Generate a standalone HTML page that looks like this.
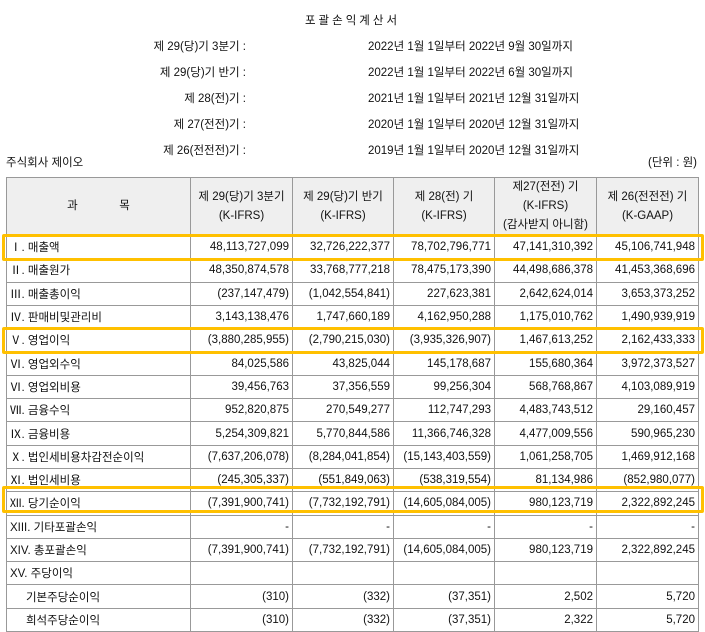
<!DOCTYPE html>
<html><head><meta charset="utf-8">
<style>
body{margin:0;width:705px;height:632px;background:#fff;font-family:"Liberation Sans","Noto Sans CJK KR","NanumGothic",sans-serif;font-size:11.5px;color:#111;position:relative;overflow:hidden}
.t{position:absolute;white-space:nowrap}
.lab{right:459px;text-align:right}
.dt{left:368px}
table{position:absolute;left:6px;top:177px;border-collapse:collapse;table-layout:fixed;border:1.5px solid #333}
td,th{border:1px solid #999;padding:0 3px;white-space:nowrap;font-weight:normal}
th{background:#efefef;height:57px;line-height:19px}
td{height:22.3px;text-align:right}
td:first-child{text-align:left}
.hl{position:absolute;left:2px;width:696px;height:21px;border:3px solid #FFC000;border-radius:2px}
</style></head><body>
<div class="t" style="left:0;width:705px;text-align:center;top:12px;letter-spacing:3px">포괄손익계산서</div>
<div class="t lab" style="top:38px">제 29(당)기 3분기 :</div>
<div class="t dt" style="top:38px">2022년 1월 1일부터 2022년 9월 30일까지</div>
<div class="t lab" style="top:64px">제 29(당)기 반기 :</div>
<div class="t dt" style="top:64px">2022년 1월 1일부터 2022년 6월 30일까지</div>
<div class="t lab" style="top:90px">제 28(전)기 :</div>
<div class="t dt" style="top:90px">2021년 1월 1일부터 2021년 12월 31일까지</div>
<div class="t lab" style="top:116px">제 27(전전)기 :</div>
<div class="t dt" style="top:116px">2020년 1월 1일부터 2020년 12월 31일까지</div>
<div class="t lab" style="top:142px">제 26(전전전)기 :</div>
<div class="t dt" style="top:142px">2019년 1월 1일부터 2020년 12월 31일까지</div>
<div class="t" style="left:6px;top:154px">주식회사 제이오</div>
<div class="t" style="right:8px;top:154px">(단위 : 원)</div>
<table>
<colgroup><col style="width:184px"><col style="width:102px"><col style="width:101px"><col style="width:101px"><col style="width:102px"><col style="width:102px"></colgroup>
<tr><th>과&nbsp;&nbsp;&nbsp;&nbsp;&nbsp;&nbsp;&nbsp;&nbsp;&nbsp;&nbsp;&nbsp;&nbsp;&nbsp;목</th><th>제 29(당)기 3분기<br>(K-IFRS)</th><th>제 29(당)기 반기<br>(K-IFRS)</th><th>제 28(전) 기<br>(K-IFRS)</th><th>제27(전전) 기<br>(K-IFRS)<br>(감사받지 아니함)</th><th>제 26(전전전) 기<br>(K-GAAP)</th></tr>
<tr><td>Ⅰ. 매출액</td><td>48,113,727,099</td><td>32,726,222,377</td><td>78,702,796,771</td><td>47,141,310,392</td><td>45,106,741,948</td></tr>
<tr><td>Ⅱ. 매출원가</td><td>48,350,874,578</td><td>33,768,777,218</td><td>78,475,173,390</td><td>44,498,686,378</td><td>41,453,368,696</td></tr>
<tr><td>Ⅲ. 매출총이익</td><td>(237,147,479)</td><td>(1,042,554,841)</td><td>227,623,381</td><td>2,642,624,014</td><td>3,653,373,252</td></tr>
<tr><td>Ⅳ. 판매비및관리비</td><td>3,143,138,476</td><td>1,747,660,189</td><td>4,162,950,288</td><td>1,175,010,762</td><td>1,490,939,919</td></tr>
<tr><td>Ⅴ. 영업이익</td><td>(3,880,285,955)</td><td>(2,790,215,030)</td><td>(3,935,326,907)</td><td>1,467,613,252</td><td>2,162,433,333</td></tr>
<tr><td>Ⅵ. 영업외수익</td><td>84,025,586</td><td>43,825,044</td><td>145,178,687</td><td>155,680,364</td><td>3,972,373,527</td></tr>
<tr><td>Ⅵ. 영업외비용</td><td>39,456,763</td><td>37,356,559</td><td>99,256,304</td><td>568,768,867</td><td>4,103,089,919</td></tr>
<tr><td>Ⅶ. 금융수익</td><td>952,820,875</td><td>270,549,277</td><td>112,747,293</td><td>4,483,743,512</td><td>29,160,457</td></tr>
<tr><td>Ⅸ. 금융비용</td><td>5,254,309,821</td><td>5,770,844,586</td><td>11,366,746,328</td><td>4,477,009,556</td><td>590,965,230</td></tr>
<tr><td>Ⅹ. 법인세비용차감전순이익</td><td>(7,637,206,078)</td><td>(8,284,041,854)</td><td>(15,143,403,559)</td><td>1,061,258,705</td><td>1,469,912,168</td></tr>
<tr><td>Ⅺ. 법인세비용</td><td>(245,305,337)</td><td>(551,849,063)</td><td>(538,319,554)</td><td>81,134,986</td><td>(852,980,077)</td></tr>
<tr><td>Ⅻ. 당기순이익</td><td>(7,391,900,741)</td><td>(7,732,192,791)</td><td>(14,605,084,005)</td><td>980,123,719</td><td>2,322,892,245</td></tr>
<tr><td>XIII. 기타포괄손익</td><td>-</td><td>-</td><td>-</td><td>-</td><td>-</td></tr>
<tr><td>XIV. 총포괄손익</td><td>(7,391,900,741)</td><td>(7,732,192,791)</td><td>(14,605,084,005)</td><td>980,123,719</td><td>2,322,892,245</td></tr>
<tr><td>XV. 주당이익</td><td></td><td></td><td></td><td></td><td></td></tr>
<tr><td>&nbsp;&nbsp;&nbsp;&nbsp;&nbsp;기본주당순이익</td><td>(310)</td><td>(332)</td><td>(37,351)</td><td>2,502</td><td>5,720</td></tr>
<tr><td>&nbsp;&nbsp;&nbsp;&nbsp;&nbsp;희석주당순이익</td><td>(310)</td><td>(332)</td><td>(37,351)</td><td>2,322</td><td>5,720</td></tr>
</table>
<div class="hl" style="top:234px"></div>
<div class="hl" style="top:327px"></div>
<div class="hl" style="top:486px"></div>
</body></html>
